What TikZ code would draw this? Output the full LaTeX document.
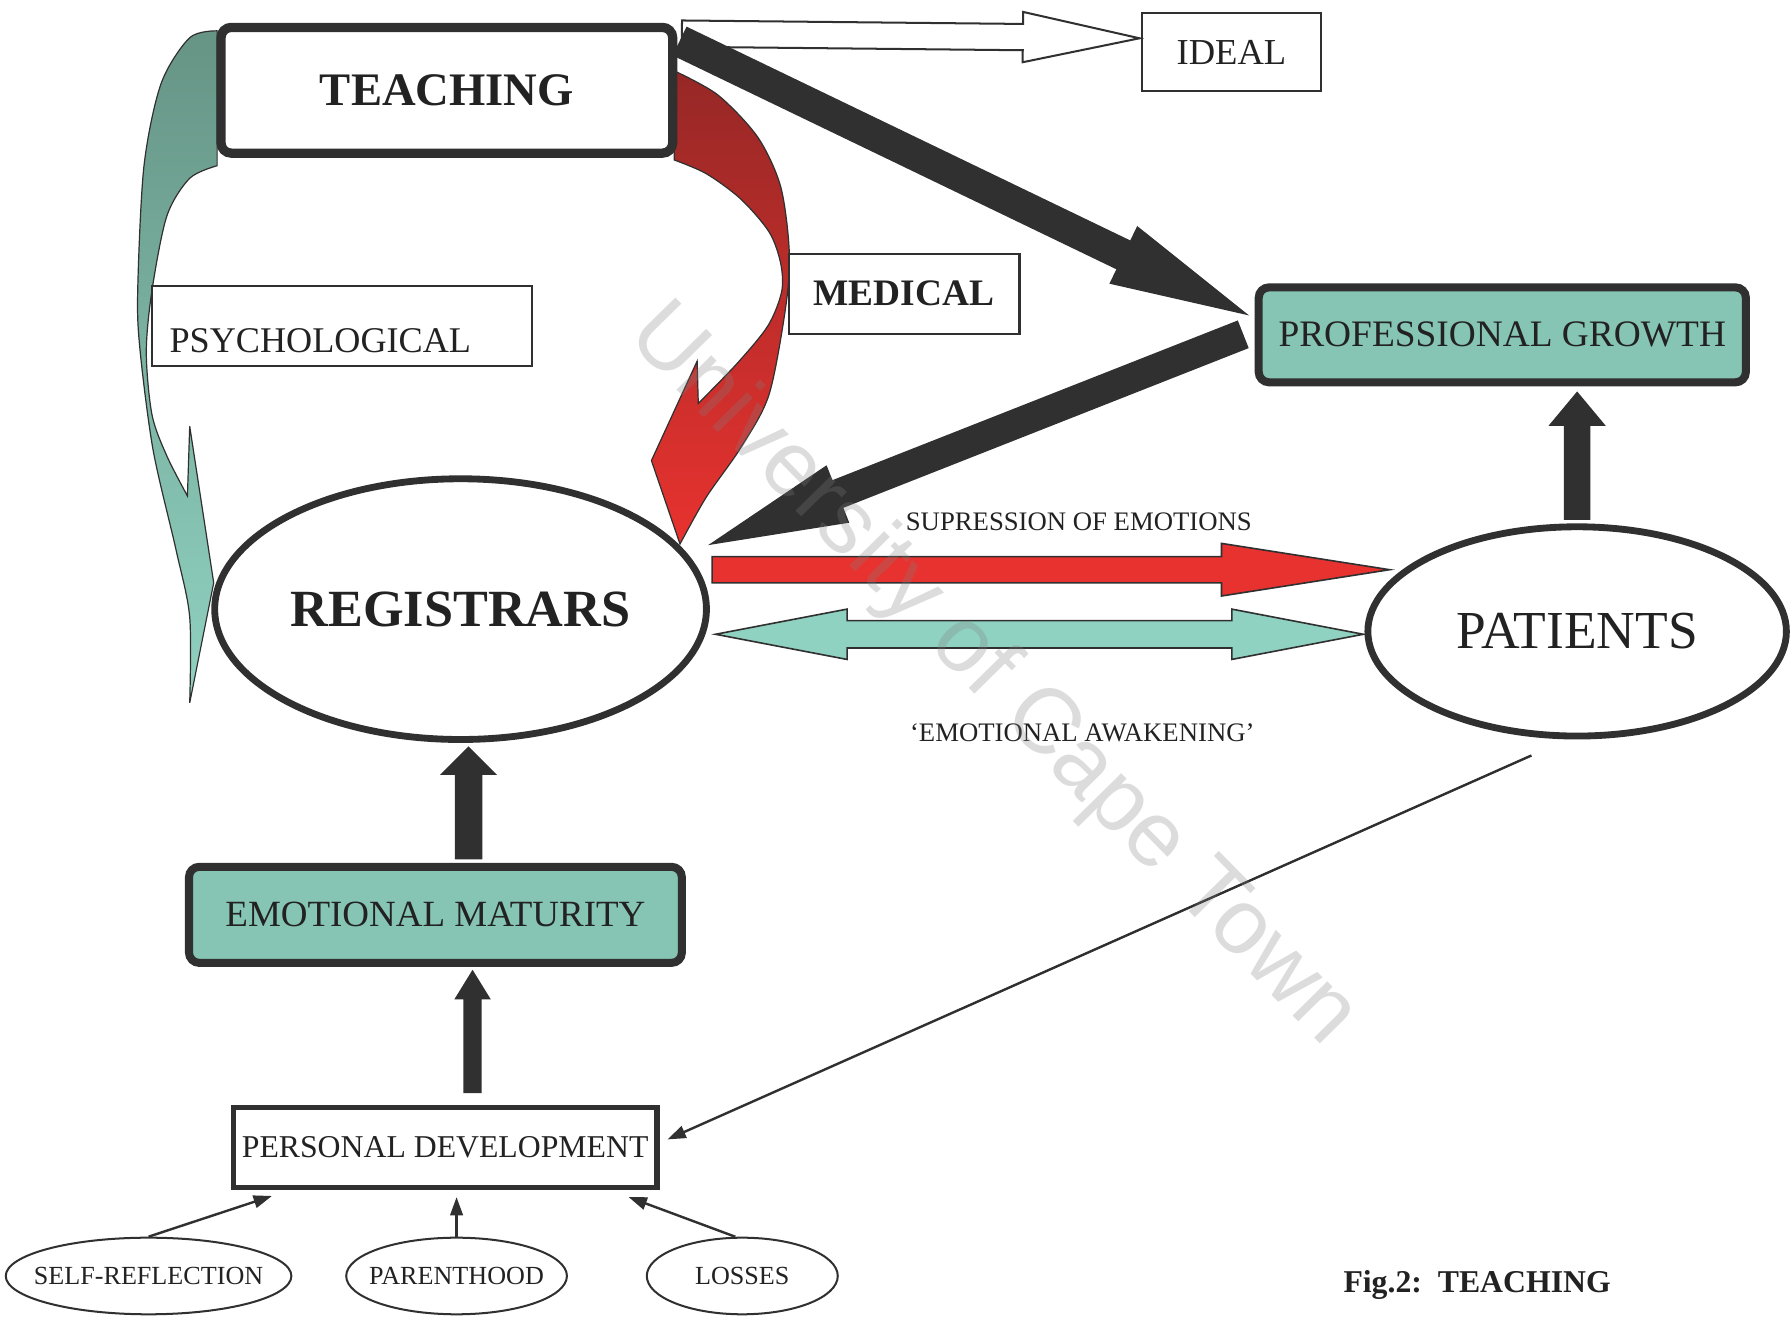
\documentclass[tikz,border=0pt]{standalone}
\usepackage{fontspec}
\setmainfont{Liberation Serif}
\newfontfamily\wmfont{Liberation Sans}
\usetikzlibrary{positioning}
\usetikzlibrary{calc}
\usetikzlibrary{arrows.meta}
\usetikzlibrary{shapes.geometric}

\definecolor{blk}{RGB}{48,48,48}
\definecolor{ink}{RGB}{34,34,34}
\definecolor{tealfill}{RGB}{134,196,180}
\definecolor{teallight}{RGB}{144,210,193}
\definecolor{tealdark}{RGB}{102,148,133}
\definecolor{redfill}{RGB}{232,50,47}
\definecolor{redmid}{RGB}{214,46,42}
\definecolor{reddark}{RGB}{150,40,38}

% block arrow: style, tail, tip, half shaft, half head, head length
\newcommand{\blockarrow}[6]{%
  \coordinate (ba-h) at ($(#3)!#6!(#2)$);
  \path[#1] ($(#2)!#4!90:(#3)$) -- ($(ba-h)!#4!90:(#3)$) -- ($(ba-h)!#5!90:(#3)$) -- (#3)
    -- ($(ba-h)!#5!-90:(#3)$) -- ($(ba-h)!#4!-90:(#3)$) -- ($(#2)!#4!-90:(#3)$) -- cycle;
}
% same with a head at both ends
\newcommand{\dblarrow}[6]{%
  \coordinate (da-a) at ($(#2)!#6!(#3)$);
  \coordinate (da-b) at ($(#3)!#6!(#2)$);
  \path[#1] (#2) -- ($(da-a)!#5!90:(#3)$) -- ($(da-a)!#4!90:(#3)$) -- ($(da-b)!#4!90:(#3)$)
    -- ($(da-b)!#5!90:(#3)$) -- (#3) -- ($(da-b)!#5!-90:(#3)$) -- ($(da-b)!#4!-90:(#3)$)
    -- ($(da-a)!#4!-90:(#3)$) -- ($(da-a)!#5!-90:(#3)$) -- cycle;
}

\tikzset{
  rbox/.style={draw=blk, fill=white, rounded corners=0.09cm, inner sep=0pt, text=ink},
  tealbox/.style={rbox, fill=tealfill, line width=2pt},
  thinbox/.style={draw=blk, line width=0.5pt, fill=white, inner sep=0pt, minimum height=0.70cm, text=ink},
  bigoval/.style={ellipse, draw=blk, line width=1.7pt, fill=white, inner sep=0pt, text=ink},
  smalloval/.style={ellipse, draw=blk, line width=0.5pt, fill=white, inner ysep=0pt, minimum height=0.67cm,
    text=ink, font=\fontsize{6.5}{8}\selectfont},
  solidarrow/.style={fill=blk},
  hollowarrow/.style={fill=white, draw=blk, line width=0.5pt},
  redarrow/.style={fill=redfill, draw=blk, line width=0.4pt},
  tealarrow/.style={fill=teallight, draw=blk, line width=0.4pt},
  thinarrow/.style={draw=blk, line width=0.6pt, -{Triangle[length=0.16cm, width=0.11cm]}},
  caption/.style={text=ink, inner sep=0pt, font=\fontsize{6.65}{8}\selectfont},
}

\begin{document}
\begin{tikzpicture}[x=0.01cm,y=-0.01cm]
 \useasboundingbox (0,0) rectangle (1568,1152);
 \fill[white] (0,0) rectangle (1568,1152);

 % curved arrows behind the boxes
 \shade[top color=tealdark, middle color=teallight, bottom color=teallight, draw=blk, line width=0.3pt]
   plot[smooth] coordinates {(190,27) (166,33) (141,73) (126,145) (120.5,254) (122.5,306) (134,394) (154,481) (166,540) (166,615)}
   -- (177,560) -- (187,510) -- (166,373) -- (164,434)
   -- plot[smooth] coordinates {(164,434) (146,399) (133,363) (128,308) (133,254) (146,189) (166,156) (190,145)}
   -- cycle;
 \shade[top color=reddark, middle color=redmid, bottom color=redfill, draw=blk, line width=0.3pt]
   plot[smooth] coordinates {(590,62) (628,83) (663,120) (683,163) (690.5,218) (688,265) (673,345) (648,392) (618,435) (595,476)}
   -- (570,403) -- (610,316) -- (611,353)
   -- plot[smooth] coordinates {(611,353) (645,318) (672,285) (684,255) (683,230) (673,203) (648,174) (618,152) (590,140)}
   -- cycle;

 % boxes and ovals
 \node[rbox, line width=2.3pt, minimum width=3.95cm, minimum height=1.10cm,
   font=\fontsize{11.6}{14}\selectfont\bfseries] (teach) at (391,79) {TEACHING};
 \node[thinbox, minimum width=1.57cm, minimum height=0.69cm, font=\fontsize{9.1}{11}\selectfont] (ideal) at (1077.5,45.5) {IDEAL};
 \node[thinbox, minimum width=2.02cm, font=\fontsize{9.3}{11}\selectfont\bfseries] (med) at (791,257) {MEDICAL};
 \node[thinbox, minimum width=3.32cm, text width=3.02cm, align=left, text height=0.46cm, text depth=0pt,
   font=\fontsize{9}{10}\selectfont] (psy) at (299.5,285) {PSYCHOLOGICAL};
 \node[tealbox, minimum width=4.26cm, minimum height=0.83cm, font=\fontsize{9.3}{11}\selectfont] (prof) at (1314.5,293) {PROFESSIONAL GROWTH};
 \node[bigoval, minimum width=4.30cm, minimum height=2.28cm, font=\fontsize{13}{15}\selectfont\bfseries] (reg) at (403,533) {REGISTRARS};
 \node[bigoval, minimum width=3.66cm, minimum height=1.83cm, font=\fontsize{13.3}{15}\selectfont] (pat) at (1380,552.5) {PATIENTS};
 \node[tealbox, minimum width=4.31cm, minimum height=0.84cm, font=\fontsize{9.2}{11}\selectfont] (em) at (381,800.5) {EMOTIONAL MATURITY};
 \node[draw=blk, fill=white, line width=1.4pt, inner sep=0pt, minimum width=3.70cm, minimum height=0.70cm, text=ink,
   font=\fontsize{7.9}{9}\selectfont] (pd) at (389.5,1004) {PERSONAL DEVELOPMENT};
 \node[smalloval, inner xsep=-3.4pt, minimum width=2.40cm] (sr) at (130,1116.5) {SELF-REFLECTION};
 \node[smalloval, inner xsep=-2.5pt, minimum width=1.93cm] (par) at (399.5,1116.5) {PARENTHOOD};
 \node[smalloval, inner xsep=0pt, minimum width=1.67cm] (los) at (649.5,1116.5) {LOSSES};

 \node[caption] (sup) at (944,457) {SUPRESSION OF EMOTIONS};
 \node[caption] (awk) at (947,641) {‘EMOTIONAL AWAKENING’};
 \node[text=ink, inner sep=0pt, font=\fontsize{7.9}{9}\selectfont\bfseries] (fig) at (1292.5,1124) {Fig.2:\ \ TEACHING};

 % end points of the block arrows
 \coordinate (t-ideal) at ($(teach.north east)+(4,9.5)$);
 \coordinate (i-in) at ($(ideal.west)+(-1,-12)$);
 \coordinate (t-prof) at ($(teach.north east)+(2,16)$);
 \coordinate (p-tip) at ($(prof.west)+(-5,-17)$);
 \coordinate (p-reg) at ($(prof.west)+(-10,-0.5)$);
 \coordinate (r-tip) at ($(reg.east)+(-1.5,-56)$);
 \coordinate (r-sup) at ($(reg.east)+(2,-34.5)$);
 \coordinate (p-sup) at ($(pat.west)+(22,-54)$);
 \coordinate (r-awk) at ($(reg.east)+(5,22)$);
 \coordinate (p-awk) at ($(pat.west)+(-1,2.5)$);
 \coordinate (pd-up) at ($(pd.north)+(24,-10)$);
 \coordinate (em-in) at ($(em.south)+(32.5,2.5)$);
 \coordinate (em-up) at ($(em.north)+(29,-3)$);
 \coordinate (reg-in) at ($(reg.south)+(7,3)$);
 \coordinate (pat-up) at ($(pat.north)+(0,-3)$);
 \coordinate (prof-in) at ($(prof.south)+(65.5,4.5)$);

 \blockarrow{hollowarrow}{t-ideal}{i-in}{0.115cm}{0.22cm}{1.02cm}
 \blockarrow{solidarrow}{t-prof}{p-tip}{0.14cm}{0.28cm}{1.22cm}
 \blockarrow{solidarrow}{p-reg}{r-tip}{0.13cm}{0.27cm}{1.22cm}
 \blockarrow{redarrow}{r-sup}{p-sup}{0.115cm}{0.23cm}{1.47cm}
 \dblarrow{tealarrow}{r-awk}{p-awk}{0.12cm}{0.22cm}{1.15cm}
 \blockarrow{solidarrow}{pd-up}{em-in}{0.08cm}{0.16cm}{0.26cm}
 \blockarrow{solidarrow}{em-up}{reg-in}{0.12cm}{0.25cm}{0.25cm}
 \blockarrow{solidarrow}{pat-up}{prof-in}{0.115cm}{0.25cm}{0.30cm}

 % thin arrows into personal development
 \draw[thinarrow] (sr.north) -- ($(pd.south west)+(36,5)$);
 \draw[thinarrow] (par.north) -- ($(pd.south)+(10,6)$);
 \draw[thinarrow] (los.100) -- ($(pd.south east)+(-27,6)$);
 \draw[thinarrow] ($(pat.south)+(-40,14)$) -- ($(pd.east)+(7,-7)$);

 % watermark
 \node[rotate=-45.5, text=gray, opacity=0.27, inner sep=0pt, font=\wmfont\fontsize{23}{23}\selectfont] (wm) at (868,592) {University of Cape Town};
\end{tikzpicture}
\end{document}
